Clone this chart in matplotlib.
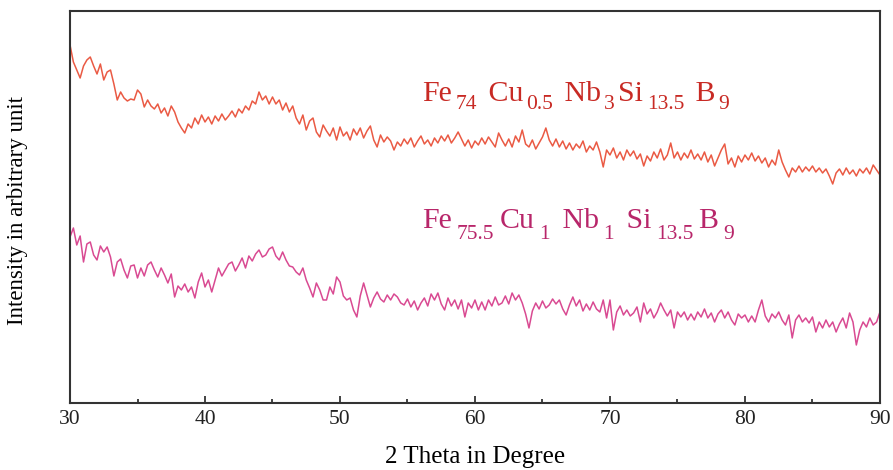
import numpy as np
import matplotlib.pyplot as plt
import matplotlib.transforms as mtransforms
from matplotlib.ticker import MultipleLocator

plt.rcParams['font.family'] = 'Liberation Serif'

# XRD scans, 30-90 deg in 0.25 deg steps (one row per degree)
fe74 = [
    358, 341, 333, 325,  337, 343, 346, 337,  329, 339, 323, 331,
    333, 319, 303, 311,  305, 302, 304, 303,  313, 309, 296, 303,
    297, 294, 299, 290,  295, 287, 297, 291,  281, 275, 270, 279,
    275, 285, 279, 288,  281, 286, 279, 287,  282, 289, 283, 287,
    292, 286, 294, 290,  297, 293, 302, 299,  311, 303, 307, 299,
    306, 299, 303, 293,  300, 291, 297, 285,  279, 288, 273, 282,
    285, 271, 266, 278,  272, 267, 275, 263,  276, 267, 271, 263,
    274, 268, 275, 265,  272, 277, 263, 256,  268, 261, 266, 262,
    253, 261, 257, 264,  259, 265, 256, 262,  267, 259, 263, 257,
    265, 260, 267, 262,  268, 260, 265, 271,  264, 257, 263, 255,
    262, 258, 265, 259,  266, 261, 256, 270,  263, 257, 264, 256,
    267, 261, 273, 259,  256, 263, 254, 260,  266, 275, 263, 257,
    264, 256, 262, 254,  260, 253, 259, 255,  262, 251, 257, 253,
    261, 251, 236, 253,  248, 255, 245, 251,  243, 253, 247, 252,
    244, 249, 237, 247,  242, 251, 245, 254,  243, 248, 260, 245,
    251, 243, 250, 245,  253, 244, 249, 243,  251, 241, 248, 237,
    245, 253, 259, 239,  245, 236, 247, 241,  248, 243, 250, 242,
    247, 240, 245, 236,  243, 238, 253, 241,  233, 226, 235, 231,
    237, 231, 236, 232,  237, 231, 235, 230,  234, 227, 219, 230,
    234, 228, 235, 229,  233, 227, 234, 230,  235, 229, 238, 233,
    228,
]
fe755 = [
    166, 175, 158, 167,  141, 159, 161, 148,  143, 157, 151, 156,
    146, 127, 141, 144,  133, 125, 137, 138,  125, 135, 127, 138,
    141, 133, 126, 135,  128, 120, 129, 106,  117, 113, 119, 111,
    116, 105, 121, 130,  116, 123, 111, 123,  135, 127, 133, 139,
    141, 132, 138, 145,  135, 147, 142, 149,  153, 146, 148, 154,
    156, 147, 143, 151,  143, 137, 136, 131,  128, 135, 123, 115,
    106, 120, 113, 103,  103, 116, 109, 126,  121, 107, 103, 105,
    93, 86, 107, 120,    108, 96, 105, 111,   104, 101, 108, 103,
    109, 106, 100, 98,   104, 96, 102, 93,    100, 105, 97, 109,
    103, 110, 99, 93,    105, 97, 103, 94,    103, 86, 100, 95,
    103, 93, 101, 93,    103, 97, 106, 98,    100, 107, 99, 110,
    103, 108, 100, 89,   75, 92, 100, 94,     102, 95, 98, 104,
    99, 103, 94, 88,     98, 106, 97, 103,    92, 99, 93, 101,
    94, 91, 103, 85,     103, 73, 91, 97,     88, 93, 87, 90,
    96, 81, 100, 89,     94, 85, 91, 100,     93, 87, 93, 75,
    91, 86, 91, 83,      89, 83, 91, 86,      94, 85, 90, 81,
    89, 93, 85, 91,      83, 78, 89, 85,      88, 81, 87, 81,
    93, 103, 87, 81,     89, 85, 91, 83,      78, 88, 65, 83,
    88, 81, 85, 80,      86, 71, 81, 75,      83, 76, 81, 71,
    79, 85, 75, 90,      81, 58, 73, 81,      76, 85, 78, 81,
    91,
]
two_theta = np.linspace(30, 90, len(fe74))

# composition labels: (text, is_subscript)
label_74 = [('Fe', False), ('74', True), (' Cu', False), ('0.5', True),
            (' Nb', False), ('3', True), ('Si', False), ('13.5', True),
            (' B', False), ('9', True)]
label_755 = [('Fe', False), ('75.5', True), ('Cu', False), ('1', True),
             (' Nb', False), ('1', True), (' Si', False), ('13.5', True),
             ('B', False), ('9', True)]

fig = plt.figure(figsize=(8.93, 4.70), dpi=100)
ax = fig.add_axes([0.0784, 0.1426, 0.907, 0.834])

ax.plot(two_theta, fe74, color='#ea5a44', lw=1.1)
ax.plot(two_theta, fe755, color='#d94a92', lw=1.1)


def formula(x, y, pieces, color, sub_drop, gap=2.0):
    renderer = fig.canvas.get_renderer()
    dx = 0.0
    for s, sub in pieces:
        tr = mtransforms.offset_copy(ax.transData, fig=fig, x=dx,
                                     y=-sub_drop if sub else 0, units='points')
        t = ax.text(x, y, s, transform=tr, color=color,
                    fontsize=15.5 if sub else 21.5, ha='left', va='baseline')
        dx += t.get_window_extent(renderer).width * 72 / fig.dpi + gap


formula(56.1, 302, label_74, '#c82a24', 6, gap=2.5)
formula(56.1, 175, label_755, '#b8266a', 8, gap=3.5)

ax.set_xlim(30, 90)
ax.set_ylim(0, 392)
ax.xaxis.set_major_locator(MultipleLocator(10))
ax.xaxis.set_minor_locator(MultipleLocator(5))
ax.tick_params(axis='x', which='both', direction='in', top=False,
               labelsize=15.5, colors='#222222', pad=5)
ax.tick_params(axis='x', which='major', length=5, width=1.2)
ax.tick_params(axis='x', which='minor', length=3, width=1.2)
ax.set_yticks([])
for s in ax.spines.values():
    s.set_linewidth(1.5)
    s.set_color('#333333')

ax.set_xlabel('2 Theta in Degree', fontsize=18)
ax.xaxis.set_label_coords(0.5, -0.11)
ax.set_ylabel('Intensity in arbitrary unit', fontsize=16.5)
ax.yaxis.set_label_coords(-0.052, 0.49)

fig.savefig('out.png', dpi=100)
